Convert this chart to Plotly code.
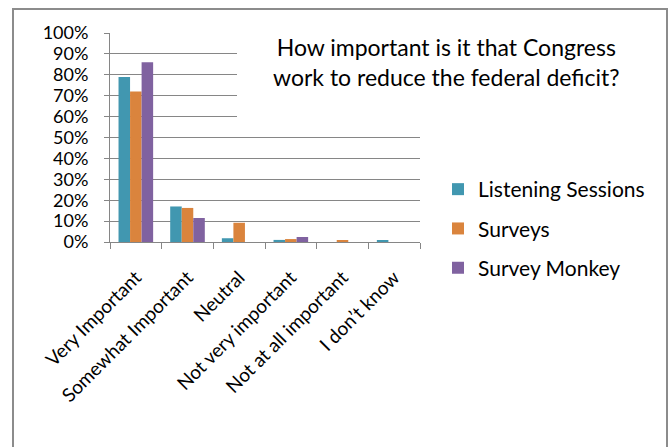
import plotly.graph_objects as go

categories = ["Very Important", "Somewhat Important", "Neutral",
              "Not very important", "Not at all important", "I don\u2019t know"]
listening_sessions = [0.79, 0.17, 0.018, 0.01, 0.0, 0.008]
surveys = [0.72, 0.163, 0.092, 0.014, 0.008, 0.0]
survey_monkey = [0.86, 0.115, 0.0, 0.024, 0.0, 0.0]
series_names = ["Listening Sessions", "Surveys", "Survey Monkey"]
colors = ["#4197B0", "#DA843D", "#8062A0"]
y_ticks = [i / 10 for i in range(11)]
y_tick_labels = [f"{i*10}%" for i in range(11)]
title_text = "How important is it that Congress<br>work to reduce the federal deficit?"

FONT = "Lato"
W, H = 670, 447
L, R, T, B = 110, 250, 33, 205
pw, ph = W - L - R, H - T - B

def px_x(px):
    return (px - L) / pw

def px_y(py):
    return (H - B - py) / ph

fig = go.Figure()
for name, vals, col, i in zip(series_names, [listening_sessions, surveys, survey_monkey], colors, range(3)):
    fig.add_trace(go.Bar(x=categories, y=vals, name=name, marker_color=col,
                         marker_line_width=0, legendgroup=str(i)))

fig.update_layout(
    width=W, height=H,
    margin=dict(l=L, r=R, t=T, b=B),
    paper_bgcolor="white", plot_bgcolor="white",
    barmode="group", bargap=0.33, bargroupgap=0,
    font=dict(family=FONT, color="#000000", size=18),
    showlegend=True,
    legend=dict(x=px_x(438), y=px_y(169), xanchor="left", yanchor="top",
                font=dict(size=21, family=FONT), tracegroupgap=9,
                bgcolor="rgba(0,0,0,0)"),
    xaxis=dict(showgrid=False, showline=True, linecolor="#868686", linewidth=1,
               ticks="outside", tickson="boundaries", ticklen=6, tickcolor="#868686",
               tickangle=-45, tickfont=dict(size=19, family=FONT),
               ticklabelstandoff=16),
    yaxis=dict(range=[0, 1], tickvals=y_ticks, ticktext=y_tick_labels,
               showgrid=True, gridcolor="#868686", gridwidth=1,
               showline=True, linecolor="#868686", linewidth=1,
               ticks="outside", ticklen=5, tickcolor="#868686",
               tickfont=dict(size=18, family=FONT), zeroline=False,
               ticklabelstandoff=12),
)

# white title box covering upper gridlines
fig.add_shape(type="rect", xref="paper", yref="paper",
              x0=px_x(237), x1=px_x(440), y0=px_y(127), y1=px_y(25),
              fillcolor="white", line_width=0, layer="above")
fig.add_annotation(text=title_text, xref="paper", yref="paper",
                   x=px_x(446), y=px_y(62), xanchor="center", yanchor="middle",
                   showarrow=False, font=dict(size=23, family=FONT, color="#000000"))
# outer chart border
fig.add_shape(type="rect", xref="paper", yref="paper",
              x0=px_x(13), x1=px_x(667), y0=px_y(470), y1=px_y(9),
              line=dict(color="#8c8c8c", width=2), fillcolor="rgba(0,0,0,0)", layer="above")

fig.write_html("out.html")
